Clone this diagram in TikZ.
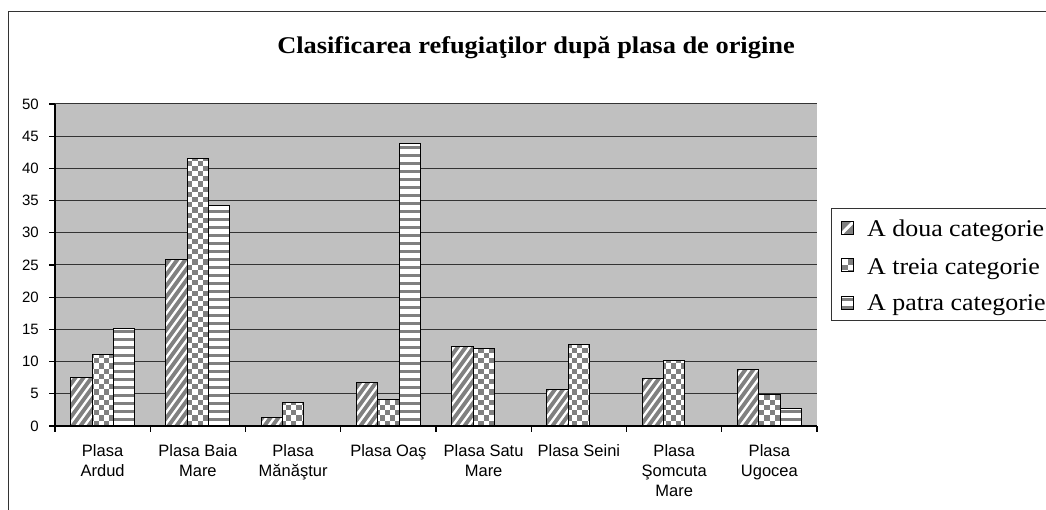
\documentclass[tikz,border=0pt]{standalone}
\usepackage{fontspec}
\setmainfont{Liberation Serif}
\newfontfamily\arialf{Liberation Sans}
\newfontfamily\legf[FakeStretch=1.08]{Liberation Serif}
\newfontfamily\titf[FakeStretch=1.1]{Liberation Serif}
\definecolor{plotbg}{HTML}{C0C0C0}
\definecolor{patgray}{HTML}{808080}
\definecolor{framecol}{HTML}{333333}
\tikzset{
  gridline/.style={black!80, line width=1pt},
  axisline/.style={black, line width=1.2pt},
  barbox/.style={draw=black, line width=1pt},
  ylab/.style={anchor=east, inner sep=0pt, font=\arialf\fontsize{15}{18}\selectfont},
  xlab/.style={anchor=north, inner sep=0pt, align=center, font=\arialf\fontsize{16.5}{20}\selectfont},
  legtext/.style={anchor=base west, inner sep=0pt, font=\legf\fontsize{24}{28}\selectfont},
}
\def\cs{5.2}
\newcommand{\mycheckfill}[4]{%
  \begin{scope}
    \clip (#1,#2) rectangle (#3,#4);
    \fill[white] (#1,#2) rectangle (#3,#4);
    \pgfmathtruncatemacro{\ia}{floor(#1/\cs)}%
    \pgfmathtruncatemacro{\ib}{floor(#3/\cs)}%
    \pgfmathtruncatemacro{\ja}{floor(#2/\cs)}%
    \pgfmathtruncatemacro{\jb}{floor(#4/\cs)}%
    \foreach \ii in {\ia,...,\ib}{%
      \foreach \jj in {\ja,...,\jb}{%
        \pgfmathtruncatemacro{\chkp}{mod(\ii+\jj,2)}%
        \ifnum\chkp=0
          \fill[patgray] ({\ii*\cs},{\jj*\cs}) rectangle ({(\ii+1)*\cs},{(\jj+1)*\cs});
        \fi
      }%
    }%
  \end{scope}
  \draw[barbox] (#1,#2) rectangle (#3,#4);
}
\newcommand{\myhfill}[4]{%
  \begin{scope}
    \clip (#1,#2) rectangle (#3,#4);
    \fill[white] (#1,#2) rectangle (#3,#4);
    \pgfmathtruncatemacro{\ja}{floor(#2/8)}%
    \pgfmathtruncatemacro{\jb}{floor(#4/8)}%
    \foreach \jj in {\ja,...,\jb}{%
      \fill[patgray] (#1,{\jj*8}) rectangle (#3,{\jj*8+3.3});
    }%
  \end{scope}
  \draw[barbox] (#1,#2) rectangle (#3,#4);
}
\newcommand{\mydiagfill}[4]{%
  \begin{scope}
    \clip (#1,#2) rectangle (#3,#4);
    \fill[patgray] (#1,#2) rectangle (#3,#4);
    \pgfmathtruncatemacro{\ka}{floor((#2-1.375*#3)/11)-1}%
    \pgfmathtruncatemacro{\kb}{floor((#4-1.375*#1)/11)+1}%
    \foreach \kk in {\ka,...,\kb}{%
      \draw[white, line width=2.3pt] ({#1-3},{1.375*(#1-3)+11*\kk}) -- ({#3+3},{1.375*(#3+3)+11*\kk});
    }%
  \end{scope}
  \draw[barbox] (#1,#2) rectangle (#3,#4);
}
\begin{document}
\begin{tikzpicture}[x=1pt,y=1pt]
\useasboundingbox (0,0) rectangle (1046,509);
\fill[white] (0,0) rectangle (1046,509);
% chart frame
\draw[framecol, line width=1.6pt] (8.5,-2) -- (8.5,497.5) -- (1050,497.5);
% title
\node[font=\titf\bfseries\fontsize{24}{28}\selectfont] (title) at (536,461) {Clasificarea refugiaţilor după plasa de origine};
% plot area
\fill[plotbg] (55,83) rectangle (817,405);
\foreach \v in {1,...,10} {
  \draw[gridline] (55,{83+32.2*\v}) -- (817,{83+32.2*\v});
}
% bars
\foreach \i/\a/\b/\c in {0/7.5/11.1/15.2, 1/25.8/41.6/34.3, 2/1.3/3.6/0, 3/6.7/4.1/43.8, 4/12.4/12.1/0, 5/5.7/12.6/0, 6/7.3/10.2/0, 7/8.8/4.9/2.75} {
  \pgfmathsetmacro{\xs}{55+95.25*\i+15.7}
  \pgfmathsetmacro{\xb}{\xs+21.3}
  \pgfmathsetmacro{\xc}{\xs+42.6}
  \pgfmathsetmacro{\xd}{\xs+63.9}
  \pgfmathsetmacro{\ya}{83+6.44*\a}
  \pgfmathsetmacro{\yb}{83+6.44*\b}
  \pgfmathsetmacro{\yc}{83+6.44*\c}
  \mydiagfill{\xs}{83}{\xb}{\ya}
  \mycheckfill{\xb}{83}{\xc}{\yb}
  \ifdim\c pt>0pt
    \myhfill{\xc}{83}{\xd}{\yc}
  \fi
}
% axes
\draw[axisline] (55,405) -- (55,83) -- (817,83);
\foreach \v in {0,...,10} {
  \draw[axisline] (49,{83+32.2*\v}) -- (55,{83+32.2*\v});
}
\foreach \i in {0,...,8} {
  \draw[axisline] ({55+95.25*\i},83) -- ({55+95.25*\i},77);
}
% y labels
\foreach \v in {0,5,...,50} {
  \node[ylab] (y\v) at (39,{83+6.44*\v}) {\v};
}
% x labels
\node[xlab] (c1) at ({55+95.25*0.5},65) {Plasa\\Ardud};
\node[xlab] (c2) at ({55+95.25*1.5},65) {Plasa Baia\\Mare};
\node[xlab] (c3) at ({55+95.25*2.5},65) {Plasa\\Mănăştur};
\node[xlab] (c4) at ({55+95.25*3.5},65) {Plasa Oaş};
\node[xlab] (c5) at ({55+95.25*4.5},65) {Plasa Satu\\Mare};
\node[xlab] (c6) at ({55+95.25*5.5},65) {Plasa Seini};
\node[xlab] (c7) at ({55+95.25*6.5},65) {Plasa\\Şomcuta\\Mare};
\node[xlab] (c8) at ({55+95.25*7.5},65) {Plasa\\Ugocea};
% legend
\draw[framecol, line width=1.4pt] (1060,300.7) -- (831.5,300.7) -- (831.5,188.3) -- (1060,188.3);
\begin{scope}
  \clip (841,274.5) rectangle (853.5,287.5);
  \fill[patgray] (841,274.5) rectangle (853.5,287.5);
  \draw[white, line width=3pt] (839,272.5) -- (855.5,289.5);
\end{scope}
\draw[barbox] (841,274.5) rectangle (853.5,287.5);
\mycheckfill{841}{237}{853.5}{250}
\myhfill{841}{199.5}{853.5}{212.5}
\node[legtext] (l1) at (867,272) {A doua categorie};
\node[legtext] (l2) at (867,234) {A treia categorie};
\node[legtext] (l3) at (867,198) {A patra categorie};
\end{tikzpicture}
\end{document}
